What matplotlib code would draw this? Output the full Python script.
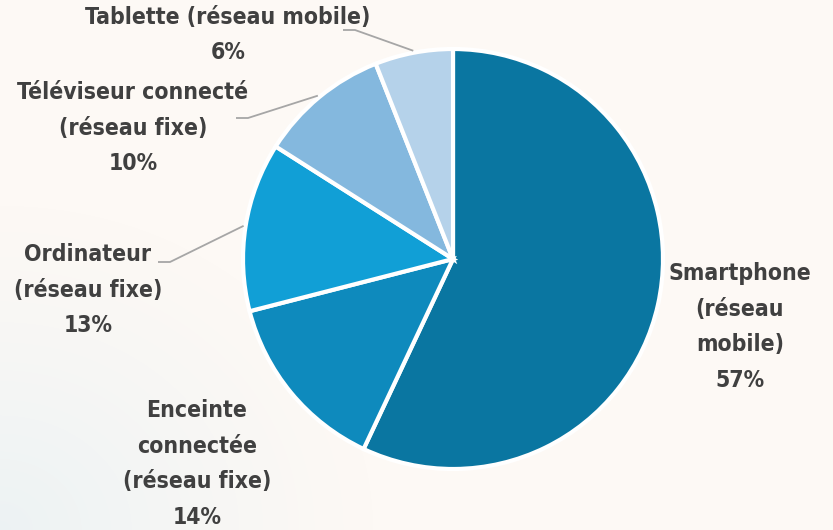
import numpy as np
import matplotlib.pyplot as plt

labels = ['Smartphone\n(réseau\nmobile)', 'Enceinte\nconnectée\n(réseau fixe)',
          'Ordinateur\n(réseau fixe)', 'Téléviseur connecté\n(réseau fixe)',
          'Tablette (réseau mobile)']
shares = [57, 14, 13, 10, 6]
colors = ['#0A76A1', '#0E8ABD', '#119FD6', '#84B8DE', '#B5D2EA']

W, H = 833, 530
bg = '#FDF9F5'

fig = plt.figure(figsize=(W / 100, H / 100), dpi=100, facecolor=bg)
ax = fig.add_axes([0, 0, 1, 1])

# faint blue wash in the bottom-left corner
yy, xx = np.mgrid[0:H, 0:W]
d = np.sqrt((xx / 380.0) ** 2 + (yy / 330.0) ** 2)
a = np.clip(1 - d, 0, 1) ** 1.2 * 0.45
img = np.zeros((H, W, 4))
img[..., :3] = np.array([0.85, 0.92, 0.95])
img[..., 3] = a
ax.imshow(img, extent=[0, W, 0, H], origin='lower', zorder=0)

cx, cy, r = 453, H - 259, 210
wedges, _ = ax.pie(shares, colors=colors, startangle=90, counterclock=False,
                   center=(cx, cy), radius=r, frame=True,
                   wedgeprops=dict(edgecolor='white', linewidth=3))
for w in wedges:
    w.set_zorder(2)
ax.set_xlim(0, W)
ax.set_ylim(0, H)
ax.set_aspect('equal')
ax.axis('off')

font = dict(family=['DejaVu Sans'], fontstretch='condensed', fontweight='bold',
            fontsize=16.5, color='#404040', ha='center', va='center',
            linespacing=1.72)

# label centres in pixel coords (from top)
label_pos = [(740, 327), (197, 464), (88, 290), (133, 128), (228, 35)]
# leader line start (pixel coords) or None
leaders = [None, None, (158, 262), (236, 118), (343, 30)]

for i, (lab, val) in enumerate(zip(labels, shares)):
    px, py = label_pos[i]
    ax.text(px, H - py, f'{lab}\n{val}%', zorder=4, **font)
    if leaders[i] is not None:
        w = wedges[i]
        mid = np.deg2rad((w.theta1 + w.theta2) / 2)
        ex, ey = cx + (r + 2) * np.cos(mid), cy + (r + 2) * np.sin(mid)
        sx, sy = leaders[i]
        ax.plot([sx, sx + 12, ex], [H - sy, H - sy, ey], color='#A6A6A6',
                lw=1.3, zorder=3, solid_capstyle='butt')

fig.savefig('out.png', dpi=100, facecolor=bg)
